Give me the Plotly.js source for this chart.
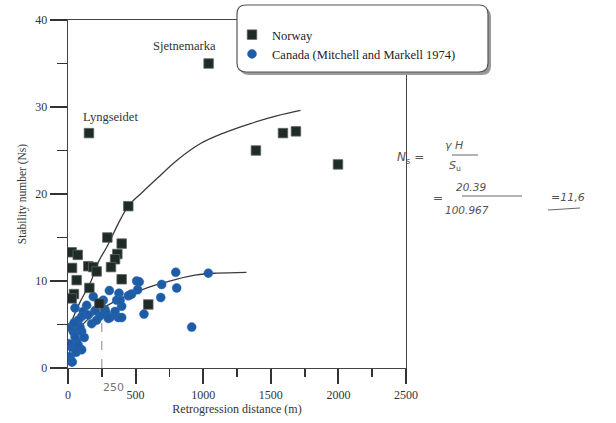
<!DOCTYPE html>
<html><head><meta charset="utf-8">
<script src="https://cdn.plot.ly/plotly-3.0.1.min.js"></script>
<style>html,body{margin:0;padding:0;background:#fff}#c{width:616px;height:423px}</style>
</head><body><div id="c"></div>
<script>
// Norway case records (retrogression distance m, stability number Ns)
const norwayX = [1040, 155, 1390, 1590, 1686, 1997, 446, 291, 397, 365, 348, 318, 27, 72, 30, 150, 187, 212, 64, 397, 158, 44, 27, 594, 232];
const norwayY = [35, 27, 25, 27, 27.2, 23.4, 18.6, 15, 14.3, 13.1, 12.5, 11.6, 13.3, 13, 11.5, 11.7, 11.6, 11.1, 10.1, 10.2, 9.2, 8.5, 8, 7.3, 7.4];
// Canada (Mitchell and Markell 1974)
const canadaX = [1038, 797, 804, 693, 686, 562, 915, 508, 527, 515, 471, 446, 377, 306, 360, 397, 348, 372, 397, 311, 281, 237, 200, 187, 261, 249, 138, 113, 150, 175, 101, 52, 76, 101, 101, 64, 39, 27, 15, 27, 20, 52, 76, 89, 212, 274, 298, 459, 385, 32, 120, 45, 10, 60];
const canadaY = [10.9, 11, 9.2, 9.6, 8.1, 6.2, 4.7, 10, 9.9, 9.0, 8.5, 8.3, 8.6, 8.9, 7.8, 7.1, 6.5, 5.8, 5.8, 5.8, 6.3, 6.0, 6.6, 8.2, 7.8, 7.6, 7.2, 6.5, 6.1, 5.1, 5.9, 6.9, 5.5, 4.2, 2.1, 3.2, 4.2, 2.4, 1.3, 0.7, 4.7, 3.6, 2.6, 4.7, 5.5, 6.7, 5.7, 8.4, 7.8, 0.7, 3.5, 5.2, 2.8, 1.8];
// Trend curves
const norwayCurveX = [5, 30, 90, 165, 225, 290, 385, 450, 550, 660, 800, 980, 1150, 1350, 1550, 1720];
const norwayCurveY = [4.5, 5.5, 7.6, 9.8, 12.2, 14, 17, 18.7, 20.2, 21.8, 23.8, 25.8, 27, 28.1, 29, 29.6];
const canadaCurveX = [5, 40, 115, 240, 420, 600, 800, 950, 1100, 1320];
const canadaCurveY = [1.5, 3.2, 5.1, 6.7, 8.2, 9.3, 10.2, 10.7, 10.9, 11.0];
// Hand-drawn guide at 250 m
const guideX = [250, 250];
const guideY = [0, 7.3];
const xTickStep = 500;
const yTickStep = 10;

const serif = '"Liberation Serif", serif';
const hand = '"DejaVu Sans", sans-serif';

const traces = [
  {x: norwayCurveX, y: norwayCurveY, mode: 'lines', line: {color: '#3a3a3a', width: 1.3, shape: 'spline'}, showlegend: false, hoverinfo: 'skip'},
  {x: canadaCurveX, y: canadaCurveY, mode: 'lines', line: {color: '#3a3a3a', width: 1.3, shape: 'spline'}, showlegend: false, hoverinfo: 'skip'},
  {x: guideX, y: guideY, mode: 'lines', line: {color: '#888', width: 1, dash: 'dash'}, showlegend: false, hoverinfo: 'skip'},
  {x: canadaX, y: canadaY, mode: 'markers', name: 'Canada (Mitchell and Markell 1974)',
   marker: {symbol: 'circle', size: 9, color: '#1f5ca6', line: {color: '#2a6bb8', width: 0.5}}},
  {x: norwayX, y: norwayY, mode: 'markers', name: 'Norway',
   marker: {symbol: 'square', size: 9.5, color: '#1e2b28', line: {color: '#5a625f', width: 0.8}}},
  // invisible trace to activate the minor-tick overlay axes
  {x: guideX, y: guideY, xaxis: 'x2', yaxis: 'y2', mode: 'markers', marker: {opacity: 0}, showlegend: false, hoverinfo: 'skip'}
];

const rx = 9/338, ry = 9/348;
function rrect(x0, y0, x1, y1) {
  return `M ${x0+rx},${y1} L ${x1-rx},${y1} Q ${x1},${y1} ${x1},${y1-ry} L ${x1},${y0+ry} Q ${x1},${y0} ${x1-rx},${y0} L ${x0+rx},${y0} Q ${x0},${y0} ${x0},${y0+ry} L ${x0},${y1-ry} Q ${x0},${y1} ${x0+rx},${y1} Z`;
}
const px = v => (v-68)/338, py = v => (368-v)/348;

const axisCommon = {ticks: 'outside', tickcolor: '#333', showgrid: false, zeroline: false};

const layout = {
  width: 616, height: 423,
  margin: {l: 68, r: 210, t: 20, b: 55},
  paper_bgcolor: '#fff', plot_bgcolor: '#fff',
  font: {family: serif, color: '#333', size: 12},
  xaxis: Object.assign({}, axisCommon, {range: [0, 2500], tickmode: 'linear', tick0: 0, dtick: xTickStep, ticklen: 15, tickwidth: 2,
    showline: true, linecolor: '#444', linewidth: 1.4, mirror: true,
    tickfont: {family: serif, size: 12, color: '#333'},
    title: {text: 'Retrogression distance (m)', font: {family: serif, size: 12, color: '#333'}, standoff: 3}}),
  yaxis: Object.assign({}, axisCommon, {range: [0, 40], tickmode: 'linear', tick0: 0, dtick: yTickStep, ticklen: 17, tickwidth: 2,
    showline: true, linecolor: '#444', linewidth: 1.4, mirror: true,
    tickfont: {family: serif, size: 12, color: '#333'},
    title: {text: 'Stability number (Ns)', font: {family: serif, size: 11.5, color: '#333'}, standoff: 6}}),
  xaxis2: Object.assign({}, axisCommon, {range: [0, 2500], overlaying: 'x', side: 'bottom', anchor: 'y2', tickmode: 'linear', tick0: 0, dtick: xTickStep/2,
    ticklen: 8, tickwidth: 1.8, showticklabels: false, showline: false}),
  yaxis2: Object.assign({}, axisCommon, {range: [0, 40], overlaying: 'y', side: 'left', anchor: 'x2', tickmode: 'linear', tick0: 0, dtick: yTickStep/2,
    ticklen: 10, tickwidth: 1.8, showticklabels: false, showline: false}),
  legend: {x: px(232), y: py(20), xanchor: 'left', yanchor: 'top', bgcolor: 'rgba(0,0,0,0)', borderwidth: 0,
    font: {family: serif, size: 12.5, color: '#222'}, traceorder: 'reversed', itemwidth: 30, tracegroupgap: 0},
  shapes: [
    {type: 'path', xref: 'paper', yref: 'paper', path: rrect(px(240), py(75), px(491), py(8)), fillcolor: '#9a9a9a', line: {width: 0}, layer: 'above'},
    {type: 'path', xref: 'paper', yref: 'paper', path: rrect(px(237), py(72), px(488), py(5)), fillcolor: '#ffffff', line: {color: '#555', width: 1.2}, layer: 'above'},
    {type: 'line', xref: 'paper', yref: 'paper', x0: px(452), x1: px(478), y0: py(155), y1: py(155), line: {color: '#666', width: 1}},
    {type: 'line', xref: 'paper', yref: 'paper', x0: px(462), x1: px(522), y0: py(196), y1: py(196), line: {color: '#666', width: 1}},
    {type: 'line', xref: 'paper', yref: 'paper', x0: px(548), x1: px(580), y0: py(210), y1: py(208), line: {color: '#666', width: 1}}
  ],
  annotations: [
    {x: 858, y: 37, xref: 'x', yref: 'y', text: 'Sjetnemarka', showarrow: false, font: {family: serif, size: 12.5, color: '#333'}},
    {x: 318, y: 28.9, xref: 'x', yref: 'y', text: 'Lyngseidet', showarrow: false, font: {family: serif, size: 12.5, color: '#333'}},
    {x: px(101), y: py(396), xref: 'paper', yref: 'paper', text: '250', showarrow: false, font: {family: hand, size: 11, color: '#777'}},
    {x: px(426), y: py(158), xref: 'paper', yref: 'paper', text: '<i>N</i><sub>s</sub> =', showarrow: false, font: {family: hand, size: 12, color: '#555'}},
    {x: px(465), y: py(145), xref: 'paper', yref: 'paper', text: '<i>γ H</i>', showarrow: false, font: {family: hand, size: 11, color: '#555'}},
    {x: px(463), y: py(166), xref: 'paper', yref: 'paper', text: '<i>S</i><sub>u</sub>', showarrow: false, font: {family: hand, size: 11, color: '#555'}},
    {x: px(445), y: py(198), xref: 'paper', yref: 'paper', text: '=', showarrow: false, font: {family: hand, size: 12, color: '#555'}},
    {x: px(488), y: py(187), xref: 'paper', yref: 'paper', text: '<i>20.39</i>', showarrow: false, font: {family: hand, size: 10.5, color: '#555'}},
    {x: px(491), y: py(210), xref: 'paper', yref: 'paper', text: '<i>100.967</i>', showarrow: false, font: {family: hand, size: 10.5, color: '#555'}},
    {x: px(549), y: py(197), xref: 'paper', yref: 'paper', xanchor: 'left', text: '<i>=11,6</i>', showarrow: false, font: {family: hand, size: 11, color: '#555'}}
  ]
};

Plotly.newPlot('c', traces, layout, {displayModeBar: false, staticPlot: true});
</script></body></html>
